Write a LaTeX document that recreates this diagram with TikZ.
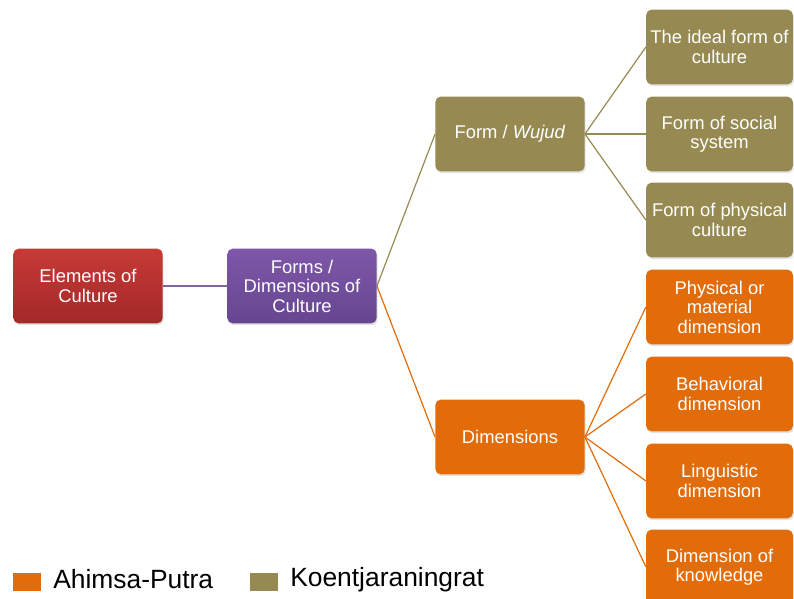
\documentclass[tikz,border=0pt]{standalone}
\usepackage{fontspec}
\setmainfont{Liberation Sans}
\usetikzlibrary{shadows,backgrounds}
\definecolor{cRed}   {RGB}{200,  58,  54}
\definecolor{cRedD}  {RGB}{163,  40,  40}
\definecolor{cPurp}  {RGB}{126,  87, 168}
\definecolor{cPurpD} {RGB}{102,  70, 144}
\definecolor{cOlive} {RGB}{150, 138,  82}
\definecolor{cOrange}{RGB}{227, 108,  10}
\definecolor{cLine}  {RGB}{128, 100, 162}
\tikzset{
  B/.style      = {rounded corners=4pt, text=white, align=center,
                   font=\fontsize{13.8}{14.6}\selectfont, inner sep=1pt,
                   minimum width=112pt, minimum height=56pt,
                   drop shadow={opacity=0.22, shadow xshift=0.8pt, shadow yshift=-1.4pt}},
  rootB/.style  = {B, top color=cRed, bottom color=cRedD},
  midB/.style   = {B, top color=cPurp, bottom color=cPurpD},
  wujB/.style   = {B, fill=cOlive},
  dimB/.style   = {B, fill=cOrange},
  leafW/.style  = {wujB, minimum width=110pt},
  leafD/.style  = {dimB, minimum width=110pt},
  L/.style      = {line width=0.9pt},
  key/.style    = {minimum width=21pt, minimum height=13pt, inner sep=0pt},
  keyT/.style   = {font=\fontsize{19.8}{22}\selectfont, anchor=base west, inner sep=0pt},
}
\begin{document}
\begin{tikzpicture}[x=0.75pt, y=-0.75pt]
\useasboundingbox (0,0) rectangle (794,599);

%% root and second level
\node[rootB] (EC) at (88,286)  {Elements of\\Culture};
\node[midB]  (FD) at (302,286) {Forms /\\Dimensions of\\Culture};

%% third level
\node[wujB] (FW)  at (510,134) {Form / \textit{Wujud}};
\node[dimB] (DIM) at (510,437) {Dimensions};

%% leaves: form / wujud
\node[leafW] (W1) at (719.5,47)  {The ideal form of\\culture};
\node[leafW] (W2) at (719.5,134) {Form of social\\system};
\node[leafW] (W3) at (719.5,220) {Form of physical\\culture};

%% leaves: dimensions
\node[leafD] (D1) at (719.5,307) {Physical or\\material\\dimension};
\node[leafD] (D2) at (719.5,394) {Behavioral\\dimension};
\node[leafD] (D3) at (719.5,481) {Linguistic\\dimension};
\node[leafD] (D4) at (719.5,567) {Dimension of\\knowledge};

%% connectors
\begin{scope}[on background layer]
\draw[L, cLine]   (EC.east) -- (FD.west);
\draw[L, cOlive]  (FD.east) -- (FW.west);
\draw[L, cOrange] (FD.east) -- (DIM.west);
\foreach \n in {W1,W2,W3}
  \draw[L, cOlive] (FW.east) -- (\n.west);
\foreach \n in {D1,D2,D3,D4}
  \draw[L, cOrange] (DIM.east) -- (\n.west);
\end{scope}

%% legend
\node[key, fill=cOrange] (K1) at (27,582) {};
\node[keyT] (K1T) at (53,588) {Ahimsa-Putra};
\node[key, fill=cOlive] (K2) at (264,582) {};
\node[keyT] (K2T) at (290,586) {Koentjaraningrat};

\end{tikzpicture}
\end{document}
